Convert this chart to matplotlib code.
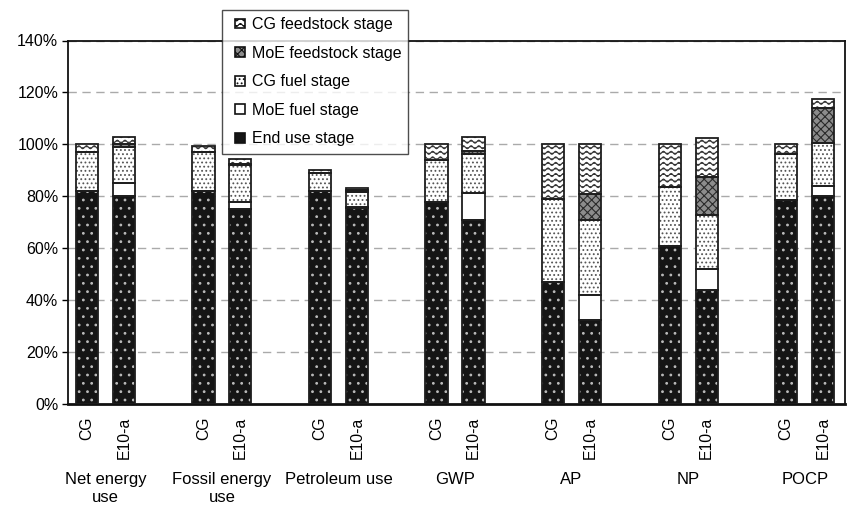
import warnings
warnings.filterwarnings("ignore")
import numpy as np
import matplotlib
matplotlib.use("Agg")
import matplotlib.pyplot as plt
from matplotlib import hatch as mhatch
from matplotlib.path import Path
from matplotlib.patches import Patch, Rectangle
from matplotlib.legend_handler import HandlerPatch
from matplotlib.ticker import FuncFormatter

# ---------------- data ----------------
groups = ["Net energy\nuse", "Fossil energy\nuse", "Petroleum use", "GWP", "AP", "NP", "POCP"]
fuels = ["CG", "E10-a"]
# order within each group: CG, E10-a
end_use      = [82, 80,   82, 75,   82, 75.5, 78, 71,   47, 32.5, 61, 44,   78.5, 80]
moe_fuel     = [0, 5,     0, 3,     0, 0.3,   0, 10.5,  0, 9.5,   0, 8,     0, 4]
cg_fuel      = [15, 14,   15, 14,   7, 6,     16, 15,   32, 29,   22.5, 21, 18, 16.5]
moe_feed     = [0, 1,     0, 0.5,   0, 0.5,   0, 1,     0, 10,    0, 14.5,  0, 13.5]
cg_feed      = [3, 3,     2.5, 2,   1, 0.8,   6, 5.5,   21, 19,   16.5, 15, 3.5, 3.5]
stage_names = ["CG feedstock stage", "MoE feedstock stage", "CG fuel stage",
               "MoE fuel stage", "End use stage"]
yticks = [0, 20, 40, 60, 80, 100, 120, 140]


# ---------------- custom wave hatch ----------------
class WaveHatch(mhatch.HatchPatternBase):
    def __init__(self, hatch, density):
        self.num_lines = int(hatch.count('~') * density)
        if self.num_lines:
            self.periods = max(1, int(round(self.num_lines * 0.7)))
            self.npts = self.periods * 8 + 1
            self.num_vertices = self.num_lines * self.npts
        else:
            self.num_vertices = 0

    def set_vertices_and_codes(self, vertices, codes):
        n = self.num_lines
        npts = self.npts
        x = np.linspace(0, 1, npts)
        for i in range(n):
            y0 = (i + 0.5) / n
            y = y0 + 0.27 / n * np.sin(2 * np.pi * self.periods * x)
            vertices[i * npts:(i + 1) * npts, 0] = x
            vertices[i * npts:(i + 1) * npts, 1] = y
            codes[i * npts] = Path.MOVETO
            codes[i * npts + 1:(i + 1) * npts] = Path.LINETO


mhatch._hatch_types.append(WaveHatch)

plt.rcParams['font.family'] = ['Liberation Sans', 'DejaVu Sans']
plt.rcParams['hatch.linewidth'] = 0.8

fig = plt.figure(figsize=(8.48, 5.13), dpi=100)
ax = fig.add_axes([68 / 848, 1 - 404.3 / 513, (845 - 68) / 848, (404.3 - 40.5) / 513])

n_groups = len(groups)
gap = 3.154
xpos = []
for g in range(n_groups):
    xpos += [g * gap, g * gap + 1]
xpos = np.array(xpos)
width = 0.6

# styles: (face, hatchcolor, hatch)
styles = {
    "End use stage": ("#151515", "#bbbbbb", ".."),
    "MoE fuel stage": ("white", "white", None),
    "CG fuel stage": ("white", "#555555", "...."),
    "MoE feedstock stage": ("#8c8c8c", "#2a2a2a", "xxxx"),
    "CG feedstock stage": ("white", "#333333", "~~~"),
}
stack_order = [("End use stage", end_use), ("MoE fuel stage", moe_fuel),
               ("CG fuel stage", cg_fuel), ("MoE feedstock stage", moe_feed),
               ("CG feedstock stage", cg_feed)]

bottom = np.zeros(len(xpos))
for name, vals in stack_order:
    vals = np.array(vals, dtype=float)
    face, hc, hatch = styles[name]
    ax.bar(xpos, vals, width, bottom=bottom, color=face, edgecolor=hc,
           hatch=hatch, linewidth=0, zorder=2)
    ax.bar(xpos, vals, width, bottom=bottom, fill=False, edgecolor="#1e1e1e",
           linewidth=1.3, zorder=3)
    bottom += vals

ax.set_ylim(0, 140)
ax.set_xlim(-0.51, xpos[-1] + 0.59)
ax.set_yticks(yticks)
ax.yaxis.set_major_formatter(FuncFormatter(lambda v, p: f"{int(v)}%"))
ax.yaxis.grid(True, color="#aaaaaa", linestyle=(0, (6, 4)), linewidth=1, zorder=0)
ax.set_axisbelow(True)
ax.tick_params(axis='y', direction='out', length=4, width=1, labelsize=11.5, pad=3)
ax.set_xticks(xpos)
ax.set_xticklabels(fuels * n_groups, rotation=90, fontsize=11.3, va='top')
ax.tick_params(axis='x', length=0, pad=9)
for s in ax.spines.values():
    s.set_linewidth(1.3)
    s.set_color("#111111")
ax.spines['bottom'].set_linewidth(2)

for g, label in enumerate(groups):
    ax.annotate(label, xy=(g * gap + 0.5, 0), xycoords=('data', 'axes fraction'),
                xytext=(0, -49), textcoords='offset points', ha='center', va='top',
                fontsize=12, linespacing=1.22)

handles = []
for name in stage_names:
    face, hc, hatch = styles[name]
    handles.append(Patch(facecolor=face, edgecolor="#111111", hatch=hatch, linewidth=1.2))


def square_patch(legend, orig_handle, xdescent, ydescent, width, height, fontsize):
    side = 7
    return Rectangle((width - side - xdescent, -ydescent + (height - side) / 2), side, side)


leg = fig.legend(handles, stage_names, loc='upper left',
                 bbox_to_anchor=(222 / 848, 1 - 10 / 513), fontsize=11.5,
                 frameon=True, fancybox=False, edgecolor="#222222",
                 handlelength=1.0, handleheight=0.7, handletextpad=0.4,
                 labelspacing=0.85, borderpad=0.45, borderaxespad=0,
                 handler_map={Patch: HandlerPatch(patch_func=square_patch)})
leg.get_frame().set_linewidth(1)
leg.set_zorder(10)

fig.savefig("out.png", dpi=100)
